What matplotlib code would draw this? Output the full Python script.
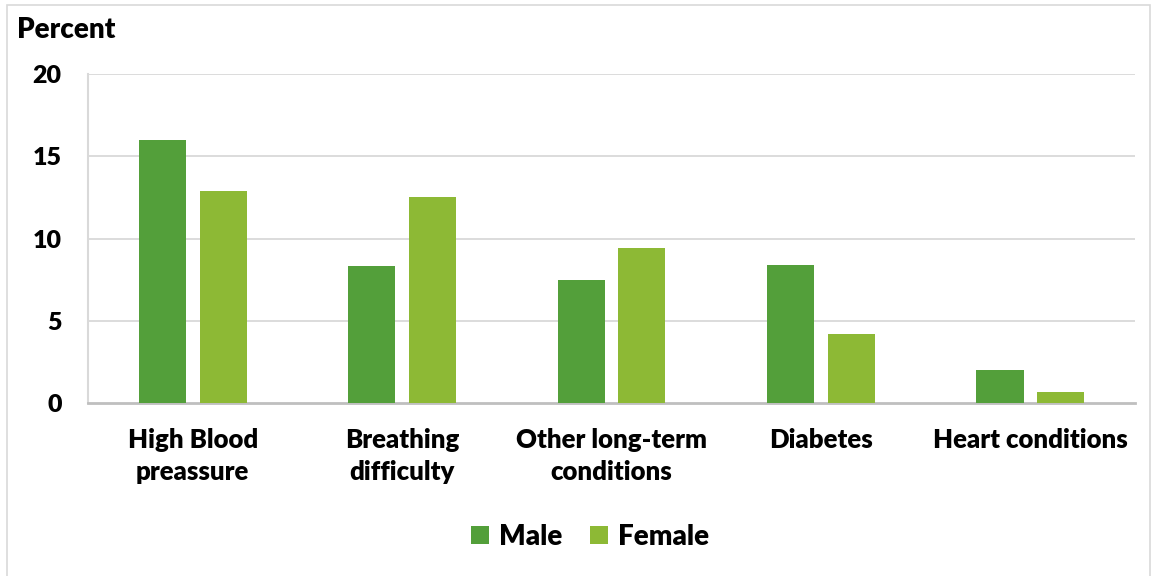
import matplotlib
matplotlib.use("Agg")
import matplotlib.pyplot as plt
import numpy as np

plt.rcParams["font.family"] = ["Lato", "DejaVu Sans"]

CATEGORIES = ["High Blood\npreassure", "Breathing\ndifficulty", "Other long-term\nconditions",
              "Diabetes", "Heart conditions"]
MALE = [16.0, 8.3, 7.5, 8.4, 2.0]
FEMALE = [12.9, 12.5, 9.4, 4.2, 0.7]
YTICKS = [0, 5, 10, 15, 20]

GREEN_M = "#539f3a"
GREEN_F = "#8db935"
GRID = "#d9d9d9"
AXIS = "#bfbfbf"


def main():
    fig = plt.figure(figsize=(11.55, 5.76), dpi=100)
    fig.patch.set_facecolor("white")
    fig.patches.append(plt.Rectangle((0.006, -0.01), 0.99, 1.001,
                                     transform=fig.transFigure, fill=False,
                                     edgecolor=GRID, lw=1.2))
    ax = fig.add_axes([0.0762, 0.3003, 0.9065, 0.5712])
    x = np.arange(len(CATEGORIES))
    bw = 0.225
    ax.bar(x - 0.145, MALE, width=bw, color=GREEN_M, label="Male", zorder=3)
    ax.bar(x + 0.145, FEMALE, width=bw, color=GREEN_F, label="Female", zorder=3)

    ax.set_xlim(-0.5, len(CATEGORIES) - 0.5)
    ax.set_ylim(0, 20)
    ax.set_yticks(YTICKS)
    ax.set_yticklabels([str(t) for t in YTICKS], fontsize=18, fontweight="heavy")
    ax.set_xticks(x)
    ax.set_xticklabels(CATEGORIES, fontsize=18.5, fontweight="heavy", linespacing=1.4)
    ax.tick_params(axis="both", length=0)
    ax.tick_params(axis="y", pad=19)
    ax.tick_params(axis="x", pad=18)
    for gy in YTICKS[1:]:
        ax.axhline(gy, color=GRID, lw=1.3, zorder=0)
    for s in ("top", "right"):
        ax.spines[s].set_visible(False)
    ax.spines["left"].set_color(GRID)
    ax.spines["left"].set_linewidth(1.5)
    ax.spines["bottom"].set_color(AXIS)
    ax.spines["bottom"].set_linewidth(2)

    fig.text(0.015, 0.948, "Percent", fontsize=20, fontweight="heavy", va="center")
    fig.legend(loc="center", bbox_to_anchor=(0.511, 0.068), ncol=2, frameon=False,
               prop={"size": 20, "weight": "heavy"}, handlelength=0.65,
               handleheight=0.65, handletextpad=0.35, columnspacing=1.0)

    fig.savefig("out.png", dpi=100, facecolor="white")


if __name__ == "__main__":
    main()
